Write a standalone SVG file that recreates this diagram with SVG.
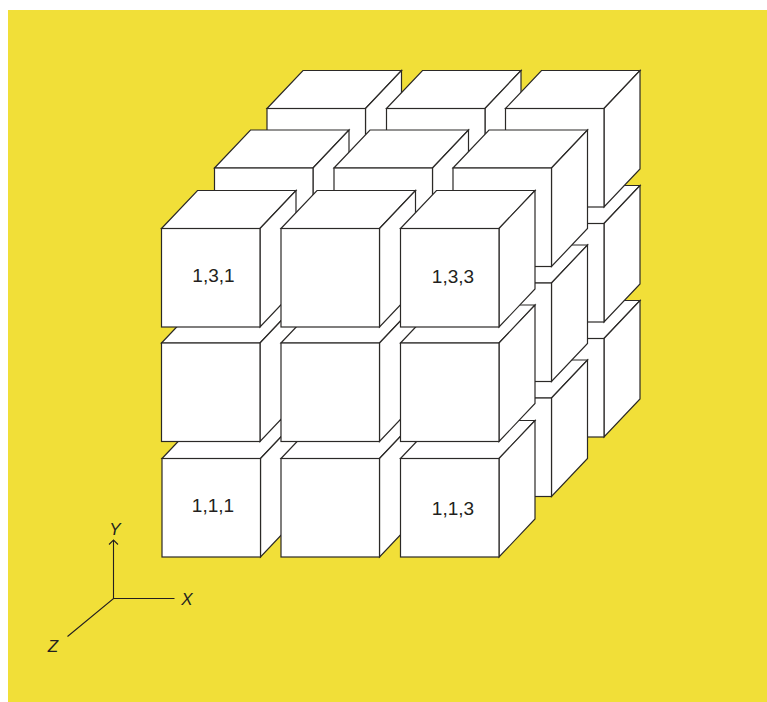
<svg xmlns="http://www.w3.org/2000/svg" width="767" height="702" viewBox="0 0 767 702">
<style>
.f{fill:#fff;stroke:#2b2927;stroke-width:1.2;stroke-linejoin:miter}
.t{font-family:"Liberation Sans",Arial,sans-serif;font-size:19px;fill:#231f20;text-anchor:middle}
.a{font-family:"Liberation Sans",Arial,sans-serif;font-style:italic;font-size:17px;fill:#231f20;text-anchor:middle}
.l{fill:none;stroke:#231f20;stroke-width:1.1}
</style>
<defs>
<g id="cube"><path class="f" d="M0 0L36-38H134.500L98.500 0Z"/><path class="f" d="M98.500 0L134.500-38V60.500L98.500 98.500Z"/><rect class="f" x="0" y="0" width="98.500" height="98.500"/></g>
</defs>
<rect x="0" y="0" width="767" height="702" fill="#fff"/>
<rect x="8" y="10" width="759" height="692" fill="#f1df38"/>
<g id="layer-3">
<g id="c-3-1-1"><use href="#cube" x="267" y="338.500"/></g>
<g id="c-3-1-2"><use href="#cube" x="386.500" y="338.500"/></g>
<g id="c-3-1-3"><use href="#cube" x="505.500" y="338.500"/></g>
<g id="c-3-2-1"><use href="#cube" x="267" y="223.500"/></g>
<g id="c-3-2-2"><use href="#cube" x="386.500" y="223.500"/></g>
<g id="c-3-2-3"><use href="#cube" x="505.500" y="223.500"/></g>
<g id="c-3-3-1"><use href="#cube" x="267" y="108.500"/></g>
<g id="c-3-3-2"><use href="#cube" x="386.500" y="108.500"/></g>
<g id="c-3-3-3"><use href="#cube" x="505.500" y="108.500"/></g>
</g>
<g id="layer-2">
<g id="c-2-1-1"><use href="#cube" x="214.500" y="398"/></g>
<g id="c-2-1-2"><use href="#cube" x="334" y="398"/></g>
<g id="c-2-1-3"><use href="#cube" x="453" y="398"/></g>
<g id="c-2-2-1"><use href="#cube" x="214.500" y="283"/></g>
<g id="c-2-2-2"><use href="#cube" x="334" y="283"/></g>
<g id="c-2-2-3"><use href="#cube" x="453" y="283"/></g>
<g id="c-2-3-1"><use href="#cube" x="214.500" y="168"/></g>
<g id="c-2-3-2"><use href="#cube" x="334" y="168"/></g>
<g id="c-2-3-3"><use href="#cube" x="453" y="168"/></g>
</g>
<g id="layer-1">
<g id="c-1-1-1"><use href="#cube" x="162" y="458.500"/><text class="t" x="213" y="512">1,1,1</text></g>
<g id="c-1-1-2"><use href="#cube" x="281" y="458.500"/></g>
<g id="c-1-1-3"><use href="#cube" x="400.500" y="458.500"/><text class="t" x="453" y="515">1,1,3</text></g>
<g id="c-1-2-1"><use href="#cube" x="161.500" y="343"/></g>
<g id="c-1-2-2"><use href="#cube" x="281" y="343"/></g>
<g id="c-1-2-3"><use href="#cube" x="400.500" y="343"/></g>
<g id="c-1-3-1"><use href="#cube" x="161.500" y="228.500"/><text class="t" x="213.500" y="282">1,3,1</text></g>
<g id="c-1-3-2"><use href="#cube" x="281" y="228.500"/></g>
<g id="c-1-3-3"><use href="#cube" x="400.500" y="228.500"/><text class="t" x="453" y="282.500">1,3,3</text></g>
</g>
<g id="axes">
<path class="l" d="M113.500 598.500V540M174.500 598.500H113.500L67.500 636.500M109 544.500L113.500 540L118 544.500"/>
<text class="a" x="115" y="535">Y</text>
<text class="a" x="187" y="605">X</text>
<text class="a" x="53" y="652">Z</text>
</g>
</svg>
